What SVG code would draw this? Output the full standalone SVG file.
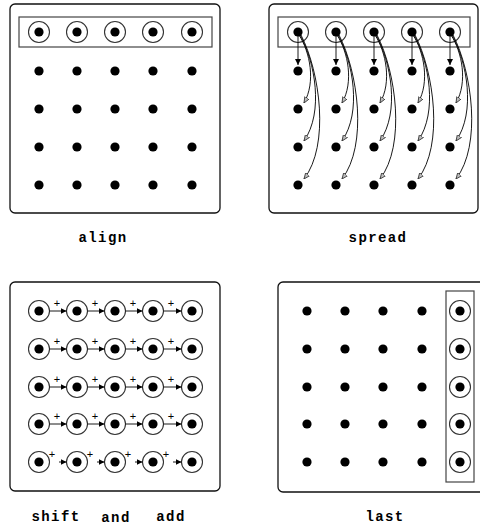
<svg xmlns="http://www.w3.org/2000/svg" xmlns:xlink="http://www.w3.org/1999/xlink" width="480" height="528" viewBox="0 0 480 528">
<style>
.panel{fill:#fff;stroke:#111;stroke-width:1.3}
.box{fill:none;stroke:#444;stroke-width:1.2}
.dot{fill:#000}
.ring{fill:none;stroke:#333;stroke-width:1.1}
.lbl{font-family:"Liberation Mono",monospace;font-weight:bold;font-size:14px;letter-spacing:1.4px;fill:#000;text-anchor:middle}
.plus{font-family:"Liberation Sans",sans-serif;font-size:11px;fill:#000;stroke:none;text-anchor:middle}
.ln{fill:none;stroke:#000;stroke-width:0.9}
</style>
<defs>
<marker id="ah" viewBox="0 0 6 6" refX="6" refY="3" markerWidth="6" markerHeight="6" markerUnits="userSpaceOnUse" orient="auto"><path d="M0,0 L6,3 L0,6 z" fill="#000"/></marker>
<marker id="ao" viewBox="0 0 6 6" refX="6" refY="3" markerWidth="6" markerHeight="6" markerUnits="userSpaceOnUse" orient="auto"><path d="M0,0.5 L6,3 L0,5.5 z" fill="#bbb" stroke="#333" stroke-width="0.8"/></marker>
<g id="rd"><circle r="10.5" class="ring"/><circle r="4.6" class="dot"/></g>
<circle id="d" r="4.6" class="dot"/>
</defs>
<rect width="480" height="528" fill="#fff"/>

<!-- Panel 1: align -->
<g id="align">
<rect class="panel" x="10" y="4" width="210" height="209" rx="5"/>
<rect class="box" x="19" y="17" width="193" height="30"/>
<g id="a-r1">
<use xlink:href="#rd" x="39" y="32"/><use xlink:href="#rd" x="77" y="32"/><use xlink:href="#rd" x="115" y="32"/><use xlink:href="#rd" x="153" y="32"/><use xlink:href="#rd" x="192" y="32"/>
</g>
<g id="a-grid">
<use xlink:href="#d" x="39" y="71"/><use xlink:href="#d" x="77" y="71"/><use xlink:href="#d" x="115" y="71"/><use xlink:href="#d" x="153" y="71"/><use xlink:href="#d" x="192" y="71"/>
<use xlink:href="#d" x="39" y="109"/><use xlink:href="#d" x="77" y="109"/><use xlink:href="#d" x="115" y="109"/><use xlink:href="#d" x="153" y="109"/><use xlink:href="#d" x="192" y="109"/>
<use xlink:href="#d" x="39" y="147"/><use xlink:href="#d" x="77" y="147"/><use xlink:href="#d" x="115" y="147"/><use xlink:href="#d" x="153" y="147"/><use xlink:href="#d" x="192" y="147"/>
<use xlink:href="#d" x="39" y="185"/><use xlink:href="#d" x="77" y="185"/><use xlink:href="#d" x="115" y="185"/><use xlink:href="#d" x="153" y="185"/><use xlink:href="#d" x="192" y="185"/>
</g>
<text class="lbl" x="103" y="242">align</text>
</g>

<!-- Panel 2: spread -->
<g id="spread">
<rect class="panel" x="269" y="4" width="209" height="209" rx="5"/>
<rect class="box" x="278" y="17" width="192" height="30"/>
<g id="s-r1">
<use xlink:href="#rd" x="298" y="32"/><use xlink:href="#rd" x="336" y="32"/><use xlink:href="#rd" x="374" y="32"/><use xlink:href="#rd" x="412" y="32"/><use xlink:href="#rd" x="450" y="32"/>
</g>
<g id="s-grid">
<use xlink:href="#d" x="298" y="71"/><use xlink:href="#d" x="336" y="71"/><use xlink:href="#d" x="374" y="71"/><use xlink:href="#d" x="412" y="71"/><use xlink:href="#d" x="450" y="71"/>
<use xlink:href="#d" x="298" y="109"/><use xlink:href="#d" x="336" y="109"/><use xlink:href="#d" x="374" y="109"/><use xlink:href="#d" x="412" y="109"/><use xlink:href="#d" x="450" y="109"/>
<use xlink:href="#d" x="298" y="147"/><use xlink:href="#d" x="336" y="147"/><use xlink:href="#d" x="374" y="147"/><use xlink:href="#d" x="412" y="147"/><use xlink:href="#d" x="450" y="147"/>
<use xlink:href="#d" x="298" y="185"/><use xlink:href="#d" x="336" y="185"/><use xlink:href="#d" x="374" y="185"/><use xlink:href="#d" x="412" y="185"/><use xlink:href="#d" x="450" y="185"/>
</g>
<text class="lbl" x="378" y="242">spread</text>
</g>

<g id="spread-connectors">
<path class="ln" marker-end="url(#ah)" d="M298,36 L298,65"/>
<path class="ln" marker-end="url(#ao)" d="M299,35 C310,52 316,82 304,103"/>
<path class="ln" marker-end="url(#ao)" d="M300,35 C315,62 324,112 304,141"/>
<path class="ln" marker-end="url(#ao)" d="M301,35 C320,72 330,145 304,179"/>
<path class="ln" marker-end="url(#ah)" d="M336,36 L336,65"/>
<path class="ln" marker-end="url(#ao)" d="M337,35 C348,52 354,82 342,103"/>
<path class="ln" marker-end="url(#ao)" d="M338,35 C353,62 362,112 342,141"/>
<path class="ln" marker-end="url(#ao)" d="M339,35 C358,72 368,145 342,179"/>
<path class="ln" marker-end="url(#ah)" d="M374,36 L374,65"/>
<path class="ln" marker-end="url(#ao)" d="M375,35 C386,52 392,82 380,103"/>
<path class="ln" marker-end="url(#ao)" d="M376,35 C391,62 400,112 380,141"/>
<path class="ln" marker-end="url(#ao)" d="M377,35 C396,72 406,145 380,179"/>
<path class="ln" marker-end="url(#ah)" d="M412,36 L412,65"/>
<path class="ln" marker-end="url(#ao)" d="M413,35 C424,52 430,82 418,103"/>
<path class="ln" marker-end="url(#ao)" d="M414,35 C429,62 438,112 418,141"/>
<path class="ln" marker-end="url(#ao)" d="M415,35 C434,72 444,145 418,179"/>
<path class="ln" marker-end="url(#ah)" d="M450,36 L450,65"/>
<path class="ln" marker-end="url(#ao)" d="M451,35 C462,52 468,82 456,103"/>
<path class="ln" marker-end="url(#ao)" d="M452,35 C467,62 476,112 456,141"/>
<path class="ln" marker-end="url(#ao)" d="M453,35 C472,72 482,145 456,179"/>
</g>

<!-- Panel 3: shift and add -->
<g id="shiftadd">
<rect class="panel" x="10" y="282" width="210" height="209" rx="5"/>
<g id="sa-grid">
<use xlink:href="#rd" x="39" y="311"/><use xlink:href="#rd" x="77" y="311"/><use xlink:href="#rd" x="115" y="311"/><use xlink:href="#rd" x="153" y="311"/><use xlink:href="#rd" x="192" y="311"/>
<use xlink:href="#rd" x="39" y="349"/><use xlink:href="#rd" x="77" y="349"/><use xlink:href="#rd" x="115" y="349"/><use xlink:href="#rd" x="153" y="349"/><use xlink:href="#rd" x="192" y="349"/>
<use xlink:href="#rd" x="39" y="387"/><use xlink:href="#rd" x="77" y="387"/><use xlink:href="#rd" x="115" y="387"/><use xlink:href="#rd" x="153" y="387"/><use xlink:href="#rd" x="192" y="387"/>
<use xlink:href="#rd" x="39" y="424"/><use xlink:href="#rd" x="77" y="424"/><use xlink:href="#rd" x="115" y="424"/><use xlink:href="#rd" x="153" y="424"/><use xlink:href="#rd" x="192" y="424"/>
<use xlink:href="#rd" x="39" y="462"/><use xlink:href="#rd" x="77" y="462"/><use xlink:href="#rd" x="115" y="462"/><use xlink:href="#rd" x="153" y="462"/><use xlink:href="#rd" x="192" y="462"/>
</g>
<g id="sa-plus">
<text class="plus" x="57" y="307">+</text><text class="plus" x="95" y="307">+</text><text class="plus" x="133" y="307">+</text><text class="plus" x="171" y="307">+</text>
<text class="plus" x="57" y="345">+</text><text class="plus" x="95" y="345">+</text><text class="plus" x="133" y="345">+</text><text class="plus" x="171" y="345">+</text>
<text class="plus" x="57" y="383">+</text><text class="plus" x="95" y="383">+</text><text class="plus" x="133" y="383">+</text><text class="plus" x="171" y="383">+</text>
<text class="plus" x="57" y="420">+</text><text class="plus" x="95" y="420">+</text><text class="plus" x="133" y="420">+</text><text class="plus" x="171" y="420">+</text>
<text class="plus" x="52" y="458">+</text><text class="plus" x="90" y="458">+</text><text class="plus" x="128" y="458">+</text><text class="plus" x="166" y="458">+</text>
</g>
<text class="lbl" x="56" y="521">shift</text>
<text class="lbl" x="116" y="522">and</text>
<text class="lbl" x="171" y="521">add</text>
</g>

<g id="shiftadd-connectors">
<path class="ln" marker-end="url(#ah)" d="M49.5,311 H66.5"/>
<path class="ln" marker-end="url(#ah)" d="M87.5,311 H104.5"/>
<path class="ln" marker-end="url(#ah)" d="M125.5,311 H142.5"/>
<path class="ln" marker-end="url(#ah)" d="M163.5,311 H181.5"/>
<path class="ln" marker-end="url(#ah)" d="M49.5,349 H66.5"/>
<path class="ln" marker-end="url(#ah)" d="M87.5,349 H104.5"/>
<path class="ln" marker-end="url(#ah)" d="M125.5,349 H142.5"/>
<path class="ln" marker-end="url(#ah)" d="M163.5,349 H181.5"/>
<path class="ln" marker-end="url(#ah)" d="M49.5,387 H66.5"/>
<path class="ln" marker-end="url(#ah)" d="M87.5,387 H104.5"/>
<path class="ln" marker-end="url(#ah)" d="M125.5,387 H142.5"/>
<path class="ln" marker-end="url(#ah)" d="M163.5,387 H181.5"/>
<path class="ln" marker-end="url(#ah)" d="M49.5,424 H66.5"/>
<path class="ln" marker-end="url(#ah)" d="M87.5,424 H104.5"/>
<path class="ln" marker-end="url(#ah)" d="M125.5,424 H142.5"/>
<path class="ln" marker-end="url(#ah)" d="M163.5,424 H181.5"/>
<path class="ln" marker-end="url(#ah)" d="M59,462 H66.5"/>
<path class="ln" marker-end="url(#ah)" d="M97,462 H104.5"/>
<path class="ln" marker-end="url(#ah)" d="M135,462 H142.5"/>
<path class="ln" marker-end="url(#ah)" d="M173,462 H181.5"/>
</g>

<!-- Panel 4: last -->
<g id="last">
<rect class="panel" x="278" y="282" width="210" height="210" rx="5"/>
<rect class="box" x="446" y="291" width="28" height="191"/>
<g id="l-grid">
<use xlink:href="#d" x="307" y="311"/><use xlink:href="#d" x="345" y="311"/><use xlink:href="#d" x="383" y="311"/><use xlink:href="#d" x="422" y="311"/>
<use xlink:href="#d" x="307" y="349"/><use xlink:href="#d" x="345" y="349"/><use xlink:href="#d" x="383" y="349"/><use xlink:href="#d" x="422" y="349"/>
<use xlink:href="#d" x="307" y="387"/><use xlink:href="#d" x="345" y="387"/><use xlink:href="#d" x="383" y="387"/><use xlink:href="#d" x="422" y="387"/>
<use xlink:href="#d" x="307" y="424"/><use xlink:href="#d" x="345" y="424"/><use xlink:href="#d" x="383" y="424"/><use xlink:href="#d" x="422" y="424"/>
<use xlink:href="#d" x="307" y="462"/><use xlink:href="#d" x="345" y="462"/><use xlink:href="#d" x="383" y="462"/><use xlink:href="#d" x="422" y="462"/>
</g>
<g id="l-col">
<use xlink:href="#rd" x="460" y="311"/><use xlink:href="#rd" x="460" y="349"/><use xlink:href="#rd" x="460" y="387"/><use xlink:href="#rd" x="460" y="424"/><use xlink:href="#rd" x="460" y="462"/>
</g>
<text class="lbl" x="385" y="521">last</text>
</g>
</svg>
